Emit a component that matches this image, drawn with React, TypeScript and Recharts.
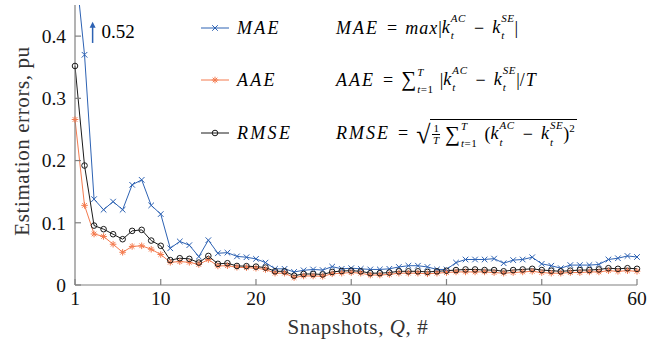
import React from "react";
import { LineChart, Line, XAxis, YAxis, ReferenceLine } from "recharts";

if (typeof document !== "undefined") document.body.style.margin = "0";

const snapshots = Array.from({ length: 60 }, (_, i) => i + 1);

const mae = [
  0.52, 0.37, 0.138, 0.121, 0.134, 0.121, 0.161, 0.169, 0.128, 0.114,
  0.059, 0.07, 0.064, 0.0456, 0.072, 0.051, 0.052, 0.046, 0.0446, 0.042,
  0.036, 0.026, 0.026, 0.021, 0.0236, 0.025, 0.024, 0.0295, 0.026, 0.027,
  0.026, 0.025, 0.025, 0.026, 0.029, 0.031, 0.031, 0.029, 0.025, 0.025,
  0.036, 0.041, 0.041, 0.041, 0.0424, 0.035, 0.04, 0.041, 0.0446, 0.034,
  0.031, 0.027, 0.032, 0.032, 0.032, 0.033, 0.041, 0.043, 0.0467, 0.045,
];

const aae = [
  0.266, 0.128, 0.082, 0.078, 0.0655, 0.0526, 0.062, 0.063, 0.0575, 0.049,
  0.0365, 0.0376, 0.0365, 0.033, 0.041, 0.0306, 0.031, 0.0285, 0.028, 0.027,
  0.025, 0.019, 0.019, 0.012, 0.0145, 0.0145, 0.014, 0.018, 0.019, 0.02,
  0.019, 0.016, 0.016, 0.017, 0.019, 0.019, 0.019, 0.018, 0.019, 0.02,
  0.021, 0.021, 0.021, 0.021, 0.02, 0.019, 0.02, 0.021, 0.022, 0.02,
  0.019, 0.019, 0.02, 0.02, 0.021, 0.021, 0.023, 0.022, 0.023, 0.022,
];

const rmse = [
  0.352, 0.192, 0.0955, 0.0897, 0.0816, 0.0736, 0.087, 0.0886, 0.0714, 0.063,
  0.04, 0.043, 0.042, 0.036, 0.0467, 0.034, 0.035, 0.0306, 0.0303, 0.0295,
  0.028, 0.022, 0.022, 0.015, 0.0177, 0.0177, 0.017, 0.021, 0.0225, 0.023,
  0.022, 0.019, 0.019, 0.02, 0.022, 0.022, 0.022, 0.021, 0.022, 0.023,
  0.024, 0.025, 0.025, 0.024, 0.024, 0.022, 0.024, 0.025, 0.026, 0.024,
  0.023, 0.022, 0.023, 0.024, 0.024, 0.025, 0.027, 0.026, 0.027, 0.026,
];

const xTicks = [1, 10, 20, 30, 40, 50, 60];
const yTicks = [0, 0.1, 0.2, 0.3, 0.4];

const data = snapshots.map((q, i) => ({ q, mae: mae[i], aae: aae[i], rmse: rmse[i] }));

const BLUE = "#2d62b3";
const ORANGE = "#f47b4f";
const BLACK = "#1a1a1a";
const AXIS = "#808080";
const FONT = "Liberation Serif";

const Cross = (props: any) => {
  const { cx, cy, stroke } = props;
  if (cx == null || cy == null) return null;
  const s = 2.8;
  return (
    <g stroke={stroke} strokeWidth={1}>
      <line x1={cx - s} y1={cy - s} x2={cx + s} y2={cy + s} />
      <line x1={cx - s} y1={cy + s} x2={cx + s} y2={cy - s} />
    </g>
  );
};

const Star = (props: any) => {
  const { cx, cy, stroke } = props;
  if (cx == null || cy == null) return null;
  const s = 3.3;
  const d = s * 0.7;
  return (
    <g stroke={stroke} strokeWidth={1}>
      <line x1={cx - s} y1={cy} x2={cx + s} y2={cy} />
      <line x1={cx} y1={cy - s} x2={cx} y2={cy + s} />
      <line x1={cx - d} y1={cy - d} x2={cx + d} y2={cy + d} />
      <line x1={cx - d} y1={cy + d} x2={cx + d} y2={cy - d} />
    </g>
  );
};

const Circ = (props: any) => {
  const { cx, cy, stroke } = props;
  if (cx == null || cy == null) return null;
  return <circle cx={cx} cy={cy} r={2.8} stroke={stroke} strokeWidth={1} fill="none" />;
};

const Arrow = (props: any) => {
  const { x1, y1, x2, y2 } = props;
  if (x1 == null) return null;
  return (
    <g>
      <line x1={x1} y1={y1} x2={x2} y2={y2 + 5} stroke={BLUE} strokeWidth={1.5} />
      <polygon points={`${x2 - 3},${y2 + 6} ${x2 + 3},${y2 + 6} ${x2},${y2}`} fill={BLUE} />
      <text x={x2 + 9} y={(y1 + y2) / 2 + 6} fontFamily={FONT} fontSize={19} fill="#000">
        0.52
      </text>
    </g>
  );
};

const XTick = (props: any) => {
  const { x, y, payload } = props;
  return (
    <text x={x} y={y} dy="0.71em" textAnchor="middle" fontFamily={FONT} fontSize={19.5} fill="#111">
      {payload.value}
    </text>
  );
};

const YTick = (props: any) => {
  const { x, y, payload } = props;
  return (
    <text x={x} y={y} dy="0.355em" textAnchor="end" fontFamily={FONT} fontSize={19.5} fill="#111">
      {payload.value === 0 ? "0" : String(payload.value)}
    </text>
  );
};

const It = ({ children, ls = 2 }: any) => <span style={{ fontStyle: "italic", letterSpacing: ls }}>{children}</span>;

const Scripts = ({ sup, sub }: any) => (
  <span style={{ display: "inline-flex", flexDirection: "column", fontSize: 11, lineHeight: "11px", verticalAlign: "middle", marginLeft: 1, fontStyle: "italic", letterSpacing: 0.6 }}>
    <span style={{ position: "relative", top: -4 }}>{sup}</span>
    <span style={{ position: "relative", top: 2 }}>{sub}</span>
  </span>
);

const K = ({ sup }: any) => (
  <span>
    <span style={{ fontStyle: "italic" }}>k</span>
    <Scripts sup={sup} sub="t" />
  </span>
);

const Sum = () => (
  <span style={{ marginRight: 4 }}>
    <span style={{ fontSize: 21 }}>∑</span>
    <Scripts sup="T" sub={<span>t<span style={{ fontStyle: "normal" }}>=1</span></span>} />
  </span>
);

const Op = ({ children }: any) => <span style={{ margin: "0 8px" }}>{children}</span>;

const LegendRow = ({ top, color, Marker, name, children }: any) => (
  <div style={{ position: "absolute", left: 200, top: top - 12, height: 24, display: "flex", alignItems: "center", fontFamily: FONT, fontSize: 18, whiteSpace: "nowrap" }}>
    <svg width={30} height={12} style={{ marginRight: 7 }}>
      <line x1={1} y1={6} x2={29} y2={6} stroke={color} strokeWidth={1} />
      <Marker cx={15} cy={6} stroke={color} />
    </svg>
    <It ls={2.3}>{name}</It>
    <div style={{ position: "absolute", left: 136, top: 0, height: 24, display: "flex", alignItems: "center" }}>{children}</div>
  </div>
);

export default function App() {
  return (
    <div style={{ position: "relative", width: 664, height: 345, background: "#fff", fontFamily: FONT }}>
      <LineChart width={664} height={345} data={data} margin={{ top: 5, right: 27, bottom: 30, left: 0 }}>
        <XAxis
          dataKey="q"
          type="number"
          domain={[1, 60]}
          ticks={xTicks}
          interval={0}
          stroke={AXIS}
          strokeWidth={1.2}
          tickSize={-6}
          tickMargin={12}
          tick={<XTick />}
          label={{
            content: () => (
              <text x={358} y={334} textAnchor="middle" fontFamily={FONT} letterSpacing={0.6} fontSize={21} fill="#333">
                Snapshots, <tspan fontStyle="italic">Q</tspan>, #
              </text>
            ),
          }}
        />
        <XAxis xAxisId="top" orientation="top" dataKey="q" type="number" domain={[1, 60]} ticks={xTicks} height={0} stroke={AXIS} strokeWidth={1.2} tickSize={-6} tick={false} />
        <YAxis
          type="number"
          domain={[0, 0.45]}
          allowDataOverflow
          ticks={yTicks}
          width={75}
          stroke={AXIS}
          strokeWidth={1.2}
          tickSize={-6}
          tickMargin={15}
          tick={<YTick />}
          label={{
            content: () => (
              <text x={29} y={141} textAnchor="middle" transform="rotate(-90 29 141)" fontFamily={FONT} letterSpacing={0.6} fontSize={21} fill="#333">
                Estimation errors, pu
              </text>
            ),
          }}
        />
        <YAxis yAxisId="right" orientation="right" type="number" domain={[0, 0.45]} ticks={yTicks} width={0} stroke={AXIS} strokeWidth={1.2} tickSize={-6} tick={false} />
        <Line dataKey="mae" stroke={BLUE} strokeWidth={1} dot={<Cross />} isAnimationActive={false} />
        <Line dataKey="aae" stroke={ORANGE} strokeWidth={1} dot={<Star />} isAnimationActive={false} />
        <Line dataKey="rmse" stroke={BLACK} strokeWidth={1} dot={<Circ />} isAnimationActive={false} />
        <ReferenceLine
          segment={[
            { x: 2.85, y: 0.389 },
            { x: 2.85, y: 0.423 },
          ]}
          shape={<Arrow />}
          ifOverflow="visible"
        />
      </LineChart>

      <LegendRow top={28} color={BLUE} Marker={Cross} name="MAE">
        <It>MAE</It>
        <Op>=</Op>
        <It ls={1}>max</It>|<K sup="AC" />
        <Op>−</Op>
        <K sup="SE" />|
      </LegendRow>
      <LegendRow top={80} color={ORANGE} Marker={Star} name="AAE">
        <It>AAE</It>
        <Op>=</Op>
        <Sum />
        <span style={{ marginLeft: 2 }}>|</span>
        <K sup="AC" />
        <Op>−</Op>
        <K sup="SE" />|/<span style={{ fontStyle: "italic", marginLeft: 1 }}>T</span>
      </LegendRow>
      <LegendRow top={133} color={BLACK} Marker={Circ} name="RMSE">
        <It>RMSE</It>
        <Op>=</Op>
        <span style={{ fontSize: 26, lineHeight: "26px", position: "relative", top: 2 }}>√</span>
        <span style={{ borderTop: "1px solid #000", paddingTop: 2, paddingRight: 2, display: "inline-flex", alignItems: "center" }}>
          <span style={{ display: "inline-flex", flexDirection: "column", fontSize: 11, lineHeight: "11px", alignItems: "center", margin: "0 5px 0 2px" }}>
            <span style={{ borderBottom: "0.8px solid #000", padding: "0 1px" }}>1</span>
            <span style={{ fontStyle: "italic" }}>T</span>
          </span>
          <Sum />
          <span style={{ marginLeft: 3 }}>(</span>
          <K sup="AC" />
          <Op>−</Op>
          <K sup="SE" />)<span style={{ fontSize: 11, position: "relative", top: -7 }}>2</span>
        </span>
      </LegendRow>
    </div>
  );
}
